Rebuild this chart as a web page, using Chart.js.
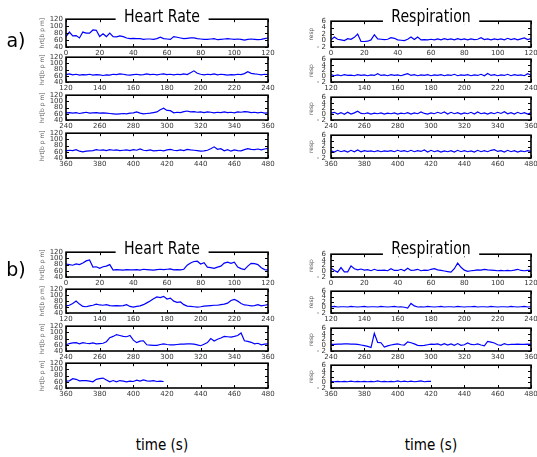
<!DOCTYPE html>
<html>
<head>
<meta charset="utf-8">
<script src="https://cdn.jsdelivr.net/npm/chart.js@4.4.0/dist/chart.umd.min.js"></script>
<style>
body { margin:0; background:#fff; width:537px; height:457px; overflow:hidden; position:relative; font-family:'DejaVu Sans', sans-serif; }
canvas { position:absolute; }
.t { position:absolute; white-space:nowrap; line-height:1; color:#000; z-index:5; transform:translate(-50%,-50%) scaleX(.83); }
.ttl { font-size:17px; background:#fff; padding:0 10px; }
.pnl { font-size:19px; transform:translate(-50%,-50%); }
.xl { font-size:15px; transform:translate(-50%,-50%) scaleX(.9); }
</style>
</head>
<body>
<div class="t pnl" style="left:16px;top:40px">a)</div>
<div class="t pnl" style="left:16px;top:269px">b)</div>
<div class="t ttl" style="left:162px;top:16px">Heart Rate</div>
<div class="t ttl" style="left:431px;top:16px">Respiration</div>
<div class="t ttl" style="left:162px;top:248px">Heart Rate</div>
<div class="t ttl" style="left:431px;top:248px">Respiration</div>
<div class="t xl" style="left:162px;top:445px">time (s)</div>
<div class="t xl" style="left:431px;top:445px">time (s)</div>
<script>
// samples every 2 s, each row covers 120 s
const STEP = 2;
const rowStarts = [0, 120, 240, 360];
const hrTicks = [40, 60, 80, 100, 120];
const respTicks = [-2, 0, 2, 4, 6];

// a) heart rate
const hrA1 = [70,83,72,73,66,83,80,80,89,88,70,78,70,80,70,69,72,70,66,64,65,64,64,62,63,63,62,64,68,64,63,62,70,68,66,64,65,66,66,64,63,62,62,63,64,61,62,63,64,63,62,63,62,60,62,63,62,61,62,64,66];
const hrA2 = [64,66,63,65,62,64,63,65,62,64,63,61,63,62,65,64,66,65,63,62,64,65,63,64,66,64,65,63,65,66,64,65,63,65,64,66,64,70,76,68,65,63,65,64,66,63,65,64,62,64,63,65,64,67,73,68,66,65,63,65,64];
const hrA3 = [63,64,62,64,61,63,65,62,63,64,62,63,62,61,60,59,60,61,60,62,63,66,62,60,61,62,64,66,73,78,71,70,63,65,64,67,69,66,67,65,66,64,66,65,63,65,64,66,64,65,63,66,65,67,66,64,65,63,65,62,63];
const hrA4 = [63,65,64,67,62,60,62,63,64,67,65,66,64,67,65,66,64,65,66,64,67,65,69,65,64,66,63,64,65,63,66,68,65,64,66,64,68,66,65,64,62,63,65,70,76,68,70,63,67,62,66,64,63,67,70,68,67,69,66,69,71];
// b) heart rate
const hrB1 = [82,80,78,82,80,85,92,95,72,73,68,73,75,80,62,64,63,62,64,63,63,64,62,65,64,63,62,64,65,64,65,66,63,64,63,65,78,85,90,91,82,86,72,70,68,72,75,85,88,84,88,72,67,64,75,84,83,80,70,64,62];
const hrB2 = [64,66,72,80,70,62,61,64,66,70,67,66,68,65,64,65,64,65,68,62,60,62,64,68,74,80,88,94,92,96,87,90,80,76,77,68,63,62,61,60,61,63,64,65,66,66,68,70,73,82,86,80,72,67,66,64,65,68,64,66,68];
const hrB3 = [60,64,66,67,63,67,65,64,66,63,64,65,70,83,87,93,90,87,86,90,75,67,72,73,60,59,58,58,61,63,61,60,60,61,62,62,63,63,62,60,57,62,67,80,72,78,82,87,86,85,87,90,98,73,71,68,63,65,60,62,63];
const hrB4 = [62,63,70,68,63,64,64,62,60,68,70,72,66,60,64,60,64,62,60,62,61,65,62,66,63,62,64,61,62,61];

// a) respiration
const respA1 = [0.2,1.1,0.4,0.2,0,0.6,0.4,1.0,2.0,-0.3,-0.3,-0.2,0.2,1.8,0.5,0.4,0.3,0.4,0.9,0.7,0.2,0.1,0,0.4,1.1,0.3,1.1,0.2,0.3,0.2,0.4,0.2,0.5,0.2,0.6,0.3,0.5,0.2,0.6,0.3,0.5,0.2,0.5,0.3,0.4,0.9,0.3,0.5,0.2,0.5,0.3,0.5,0.2,0.7,0.3,0.6,0.2,0.5,0.8,0.3,0.6];
const respA2 = [0.6,0.2,0.5,0.2,0.6,0.3,0.4,0.2,0.6,0.3,0.5,0.2,0.5,0.3,0.9,0.3,0.5,0.2,0.6,0.3,0.5,0.2,0.6,0.9,0.3,0.6,0.2,0.5,0.3,0.6,0.2,0.5,0.3,0.6,0.2,0.5,0.3,0.7,0.2,0.5,0.3,0.6,0.2,0.5,0.3,0.7,0.2,1.0,0.3,0.6,0.2,0.5,0.3,0.7,0.2,0.6,0.3,0.5,0.2,0.9,0.4];
const respA3 = [0.4,0.7,0.1,0.6,0.0,0.7,0.1,0.5,1.1,0.3,0.2,0.5,0.1,0.4,0.2,0.5,0.1,0.4,0.2,0.5,0.1,0.4,0.2,0.6,0.1,0.5,0.2,0.8,0.3,0.1,0.5,0.2,0.7,0.3,0.8,0.1,0.7,0.2,0.6,0.1,0.5,0.2,0.7,0.1,0.8,0.2,0.5,0.1,0.6,0.2,0.7,0.3,0.9,0.2,0.6,0.1,0.7,0.2,0.6,0.1,0.5];
const respA4 = [0.5,0.1,0.7,0.2,0.6,0.1,0.7,0.2,0.8,0.2,0.6,0.3,0.5,0.2,0.6,0.2,0.5,0.3,0.6,0.2,0.7,0.3,0.6,0.2,0.7,0.2,0.6,0.3,0.8,0.1,0.7,0.2,0.6,0.1,0.5,0.2,0.6,0.1,0.7,0.2,0.6,0.2,0.5,0.1,0.7,0.2,0.6,0.2,0.7,0.9,0.3,0.6,0.1,0.7,0.2,0.6,0.1,0.5,0.2,0.6,0.3];
// b) respiration
const respB1 = [1.2,0.3,-0.3,1.3,-0.2,-0.2,1.9,0.9,0.5,0.8,0.4,0.6,0.2,0.7,0.3,0.3,0.4,0.2,0.9,0.3,0.3,0.7,0.2,1.1,0.3,0.4,0.7,0.2,0.4,0.3,0.7,0.9,0.5,0.3,0.1,-0.1,-0.3,0.9,2.9,1.4,0.4,0.0,0.2,0.3,0.5,0.4,0.7,0.5,0.4,0.3,0.2,0.3,0.2,0.3,0.2,0.4,0.7,0.3,0.2,0.3,0.3];
const respB2 = [0.3,0.4,0.2,0.3,0.3,0.2,0.4,0.3,0.2,0.3,0.4,0.2,0.3,0.3,0.2,0.4,0.3,0.2,0.3,0.4,0.2,0.3,0.1,-0.2,1.5,0.6,0.2,0.3,0.2,0.4,0.3,0.2,0.3,0.4,0.2,0.3,0.3,0.2,0.4,0.3,0.2,0.3,0.3,0.4,0.2,0.3,0.3,0.2,0.4,0.3,0.2,0.3,0.3,0.2,0.4,0.3,0.2,0.3,0.4,0.2,0.3];
const respB3 = [0.3,0.3,0.4,0.4,0.5,0.5,0.4,0.4,0.3,0.1,-0.1,-0.4,-0.8,4.2,1.0,0.9,-0.6,-0.2,0.1,0.3,0.5,0.2,0.1,1.2,0.9,0.5,0.0,-0.1,0.0,0.2,0.4,0.3,0.5,0.1,0.6,0.1,0.5,0.0,0.6,0.0,0.2,0.8,0.3,0.2,0.5,0.1,-0.2,1.4,1.1,0.8,0.2,0.0,0.6,0.2,0.3,0.3,0.4,0.3,0.3,0.4,0.3];
const respB4 = [0.3,0.2,0.3,0.2,0.3,0.2,0.4,0.2,0.3,0.2,0.3,0.2,0.3,0.2,0.5,0.2,0.3,0.2,0.3,0.2,0.5,0.2,0.4,0.2,0.4,0.2,0.3,0.5,0.2,0.3,0.3];

const hrRows = { a: [hrA1, hrA2, hrA3, hrA4], b: [hrB1, hrB2, hrB3, hrB4] };
const respRows = { a: [respA1, respA2, respA3, respA4], b: [respB1, respB2, respB3, respB4] };

// layout of the plot boxes (page pixels)
const colL = [66, 331], colR = [268, 531];
const rowTop = { a: [18, 56, 94, 132], b: [251, 288, 325, 362] };
const rowBot = { a: [47, 82, 120, 158], b: [277, 313, 351, 388] };
const YW = 44, XH = 14, PT = 6, PR = 12;

// box round the plot area with inward ticks on every side
const frame = {
    id: 'frame',
    afterDraw(chart) {
        const { ctx, chartArea: a, scales: { x, y } } = chart;
        ctx.save();
        ctx.strokeStyle = '#000';
        ctx.lineWidth = 1;
        ctx.beginPath();
        x.ticks.forEach(t => {
            const px = Math.round(x.getPixelForValue(t.value)) + 0.5;
            ctx.moveTo(px, a.bottom); ctx.lineTo(px, a.bottom - 3);
            ctx.moveTo(px, a.top); ctx.lineTo(px, a.top + 3);
        });
        y.ticks.forEach(t => {
            const py = Math.round(y.getPixelForValue(t.value)) + 0.5;
            ctx.moveTo(a.left, py); ctx.lineTo(a.left + 3, py);
            ctx.moveTo(a.right, py); ctx.lineTo(a.right - 3, py);
        });
        ctx.stroke();
        ctx.lineWidth = 1.6;
        ctx.strokeRect(a.left, a.top, a.right - a.left, a.bottom - a.top);
        ctx.restore();
    }
};

function makePlot(panel, row, col) {
    const vals = col === 0 ? hrRows[panel][row] : respRows[panel][row];
    const ticks = col === 0 ? hrTicks : respTicks;
    const start = rowStarts[row];
    const L = colL[col], R = colR[col], T = rowTop[panel][row], B = rowBot[panel][row];

    const cv = document.createElement('canvas');
    cv.width = R - L + YW + PR;
    cv.height = B - T + PT + XH;
    cv.style.left = (L - YW) + 'px';
    cv.style.top = (T - PT) + 'px';
    document.body.appendChild(cv);

    const pts = vals.map((v, i) => ({ x: start + i * STEP, y: v }));

    new Chart(cv.getContext('2d'), {
        type: 'line',
        data: {
            datasets: [{
                data: pts,
                borderColor: '#0000ff',
                borderWidth: 1.2,
                pointRadius: 0,
                tension: 0,
                fill: false
            }]
        },
        options: {
            responsive: false,
            animation: false,
            events: [],
            layout: { padding: { left: 0, right: PR, top: PT, bottom: 0 } },
            plugins: { legend: { display: false }, tooltip: { enabled: false } },
            scales: {
                x: {
                    type: 'linear',
                    min: start,
                    max: start + 120,
                    afterFit: s => { s.height = XH; },
                    grid: { display: false, drawTicks: false },
                    border: { display: false },
                    ticks: {
                        stepSize: 20, autoSkip: false, maxRotation: 0, padding: 2,
                        color: '#333', font: { size: 7, family: 'DejaVu Sans' }
                    }
                },
                y: {
                    min: ticks[0],
                    max: ticks[ticks.length - 1],
                    afterFit: s => { s.width = YW; },
                    grid: { display: false, drawTicks: false },
                    border: { display: false },
                    ticks: {
                        stepSize: ticks[1] - ticks[0], autoSkip: false,
                        padding: col === 0 ? 3 : 5,
                        color: '#333', font: { size: 7, family: 'DejaVu Sans' },
                        callback: v => v < 0 ? '- ' + (-v) : String(v)
                    },
                    title: {
                        display: true,
                        text: col === 0 ? 'hrt[b p m]' : 'resp',
                        color: '#555',
                        padding: { top: col === 0 ? 17 : 21, bottom: 0 },
                        font: { size: 6, family: 'DejaVu Sans' }
                    }
                }
            }
        },
        plugins: [frame]
    });
}

['a', 'b'].forEach(p => {
    for (let r = 0; r < 4; r++) {
        makePlot(p, r, 0);
        makePlot(p, r, 1);
    }
});
</script>
</body>
</html>
